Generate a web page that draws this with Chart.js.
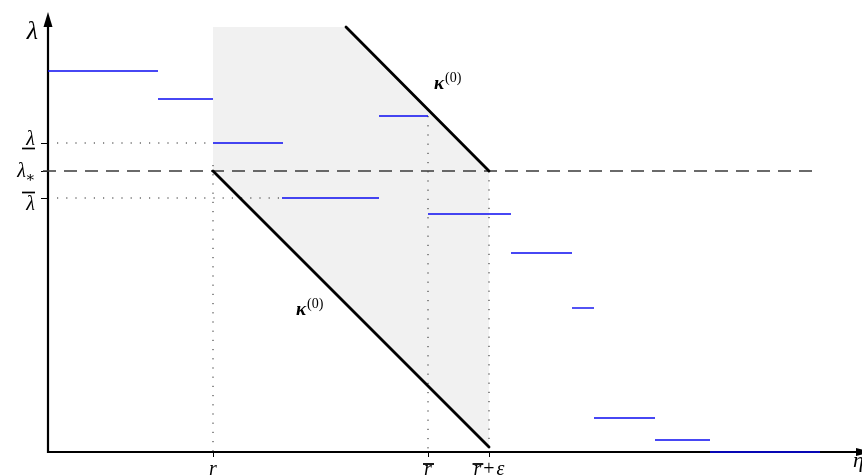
<!DOCTYPE html>
<html>
<head>
<meta charset="utf-8">
<script src="https://cdn.jsdelivr.net/npm/chart.js@4"></script>
<style>
  html, body { margin: 0; padding: 0; background: #fff; overflow: hidden; }
  #wrap { width: 862px; height: 476px; }
</style>
</head>
<body>
<div id="wrap"><canvas id="c" width="862" height="476"></canvas></div>
<script>
// Marked positions on the eta axis: r, r-bar, r-bar + epsilon
const etaMarks = [16.5, 38.0, 44.1];
// Marked levels on the lambda axis: lambda-underline, lambda-star, lambda-bar
const lamUnder = 30.9, lamStar = 28.1, lamOver = 25.4;

// Piecewise-constant curve: segment starts, ends and levels
const stepStart = [0.0, 11.0, 16.5, 23.4, 33.1, 38.0, 46.3, 52.4, 54.6, 60.7, 66.2];
const stepEnd   = [11.0, 16.5, 23.5, 33.1, 38.0, 46.3, 52.4, 54.6, 60.7, 66.2, 77.2];
const stepLevel = [38.1, 35.3, 30.9, 25.4, 33.6, 23.8, 19.9, 14.4, 3.4, 1.2, 0.0];

// kappa^(0) boundaries, as [eta, lambda] end points
const kappaUpper = [[29.8, 42.5], [44.1, 28.1]];
const kappaLower = [[16.5, 28.1], [44.1, 0.5]];
const bandTop = 42.5;

// Axis extents
const etaMax = 81.2, lamMax = 44.0, dashFrom = -0.5, dashTo = 77.2;

const [rLow, rHigh, rHighEps] = etaMarks;
const pt = (x, y) => ({ x, y });

const datasets = [];

// Shaded band: upper boundary filled down to the lower boundary
datasets.push({
  data: [pt(rLow, bandTop), pt(kappaUpper[0][0], bandTop), pt(kappaUpper[1][0], kappaUpper[1][1])],
  borderWidth: 0, borderColor: 'rgba(0,0,0,0)', backgroundColor: '#f1f1f1',
  fill: '+1', order: 20
});
datasets.push({
  data: [pt(kappaLower[0][0], kappaLower[0][1]), pt(kappaLower[1][0], kappaLower[1][1])],
  borderWidth: 0, borderColor: 'rgba(0,0,0,0)', fill: false, order: 19
});

// Dotted guide lines
const dotted = { borderColor: '#222', borderWidth: 1, borderDash: [1.2, 8], fill: false, order: 10 };
datasets.push({ ...dotted, data: [pt(0.9, lamUnder), pt(rLow, lamUnder)] });
datasets.push({ ...dotted, data: [pt(0.9, lamOver), pt(stepStart[3], lamOver)] });
datasets.push({ ...dotted, data: [pt(rLow, lamStar + 0.6), pt(rLow, 0)] });
datasets.push({ ...dotted, data: [pt(rHigh, stepLevel[4]), pt(rHigh, 0)] });
datasets.push({ ...dotted, data: [pt(rHighEps, lamStar), pt(rHighEps, 0)] });

// Dashed lambda-star level
datasets.push({
  data: [pt(dashFrom, lamStar), pt(dashTo, lamStar)],
  borderColor: '#3a3a3a', borderWidth: 1.4, borderDash: [13, 8], fill: false, order: 9, clip: false
});

// Step segments
for (let i = 0; i < stepLevel.length; i++) {
  datasets.push({
    data: [pt(stepStart[i], stepLevel[i]), pt(stepEnd[i], stepLevel[i])],
    borderColor: '#0a0af0', borderWidth: 1.4, fill: false, order: 5, clip: false
  });
}

// kappa^(0) lines
for (const k of [kappaUpper, kappaLower]) {
  datasets.push({
    data: k.map(p => pt(p[0], p[1])),
    borderColor: '#000', borderWidth: 2.8, fill: false, order: 1, borderCapStyle: 'round'
  });
}

const SERIF = '"Liberation Serif", "DejaVu Serif", serif';

function text(ctx, s, x, y, size, align, style) {
  ctx.font = (style || 'italic') + ' ' + size + 'px ' + SERIF;
  ctx.textAlign = align || 'left';
  ctx.textBaseline = 'alphabetic';
  ctx.fillText(s, x, y);
  return ctx.measureText(s).width;
}

function hline(ctx, x0, x1, y, w) {
  ctx.beginPath();
  ctx.lineWidth = w;
  ctx.moveTo(x0, y);
  ctx.lineTo(x1, y);
  ctx.stroke();
}

const axesPlugin = {
  id: 'axesPlugin',
  beforeDatasetsDraw(chart) {
    const { ctx } = chart;
    const xs = chart.scales.x, ys = chart.scales.y;
    const x0 = xs.getPixelForValue(0), y0 = ys.getPixelForValue(0);
    const yTop = ys.getPixelForValue(lamMax);
    ctx.save();
    ctx.strokeStyle = '#000';
    ctx.fillStyle = '#000';
    ctx.lineWidth = 2.2;
    // vertical axis with arrow
    ctx.beginPath();
    ctx.moveTo(x0, y0 + 1);
    ctx.lineTo(x0, yTop + 12);
    ctx.stroke();
    ctx.beginPath();
    ctx.moveTo(x0, yTop);
    ctx.lineTo(x0 - 4.5, yTop + 15);
    ctx.lineTo(x0 + 4.5, yTop + 15);
    ctx.closePath();
    ctx.fill();
    // horizontal axis with arrow
    ctx.beginPath();
    ctx.moveTo(x0 - 1, y0);
    ctx.lineTo(chart.width - 4, y0);
    ctx.stroke();
    ctx.beginPath();
    ctx.moveTo(chart.width + 9, y0);
    ctx.lineTo(chart.width - 6, y0 - 4);
    ctx.lineTo(chart.width - 6, y0 + 4);
    ctx.closePath();
    ctx.fill();
    // tick marks
    for (const v of [lamUnder, lamStar, lamOver]) {
      const y = Math.round(ys.getPixelForValue(v)) + 0.5;
      hline(ctx, x0 - 7, x0, y, 1);
    }
    ctx.lineWidth = 1;
    for (const v of etaMarks) {
      const x = Math.round(xs.getPixelForValue(v)) + 0.5;
      ctx.beginPath();
      ctx.moveTo(x, y0);
      ctx.lineTo(x, y0 + 5);
      ctx.stroke();
    }
    ctx.restore();
  },
  afterDatasetsDraw(chart) {
    const { ctx } = chart;
    const xs = chart.scales.x, ys = chart.scales.y;
    const x0 = xs.getPixelForValue(0), y0 = ys.getPixelForValue(0);
    ctx.save();
    ctx.fillStyle = '#000';
    ctx.strokeStyle = '#000';

    // axis titles
    text(ctx, 'λ', x0 - 10, ys.getPixelForValue(lamMax) + 27, 26, 'right');
    text(ctx, 'η', chart.width - 9, y0 + 15, 22, 'left');

    // lambda tick labels
    let py = ys.getPixelForValue(lamUnder);
    text(ctx, 'λ', 35, py + 2, 20, 'right');
    hline(ctx, 22, 35, py + 5.5, 1.7);

    py = ys.getPixelForValue(lamStar);
    text(ctx, 'λ', 26, py + 6, 20, 'right');
    text(ctx, '∗', 25, py + 11, 15, 'left', 'normal');

    py = ys.getPixelForValue(lamOver);
    text(ctx, 'λ', 35, py + 12, 20, 'right');
    hline(ctx, 22, 35, py - 5.5, 1.7);

    // eta tick labels
    const by = y0 + 23;
    text(ctx, 'r', xs.getPixelForValue(rLow), by, 20, 'center');
    let px = xs.getPixelForValue(rHigh);
    text(ctx, 'r', px, by, 20, 'center');
    hline(ctx, px - 5, px + 6, y0 + 12, 1.8);

    px = xs.getPixelForValue(rHighEps);
    const pad = 2;
    ctx.font = 'italic 20px ' + SERIF;
    const wr = ctx.measureText('r').width;
    ctx.font = 'normal 20px ' + SERIF;
    const wp = ctx.measureText('+').width + 2 * pad;
    ctx.font = 'italic 20px ' + SERIF;
    const we = ctx.measureText('ε').width;
    const sx = px - (wr + wp + we) / 2;
    text(ctx, 'r', sx, by, 20, 'left');
    hline(ctx, sx - 1, sx + wr + 2, y0 + 12, 1.8);
    text(ctx, '+', sx + wr + pad, by, 20, 'left', 'normal');
    text(ctx, 'ε', sx + wr + wp, by, 20, 'left');

    // kappa^(0) labels
    const kl = (x, y) => {
      const kw = text(ctx, 'κ', x, y, 19, 'left', 'italic bold');
      text(ctx, '(0)', x + kw + 1, y - 7, 14, 'left', 'normal');
    };
    kl(xs.getPixelForValue(38.6), ys.getPixelForValue(36.3));
    kl(xs.getPixelForValue(24.8), ys.getPixelForValue(13.7));

    ctx.restore();
  }
};

new Chart(document.getElementById('c'), {
  type: 'scatter',
  data: { datasets },
  options: {
    responsive: false,
    animation: false,
    devicePixelRatio: 1,
    showLine: true,
    layout: { padding: { left: 48, right: 2, top: 12, bottom: 24 } },
    elements: { point: { radius: 0, hoverRadius: 0 }, line: { tension: 0 } },
    plugins: { legend: { display: false }, tooltip: { enabled: false } },
    scales: {
      x: { type: 'linear', min: 0, max: etaMax, display: false },
      y: { type: 'linear', min: 0, max: lamMax, display: false }
    }
  },
  plugins: [axesPlugin]
});
</script>
</body>
</html>
